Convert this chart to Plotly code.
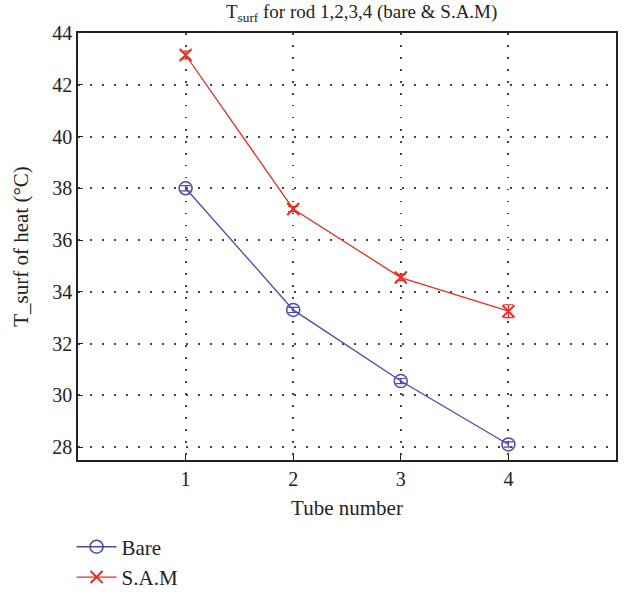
import plotly.graph_objects as go

tubes = [1, 2, 3, 4]
bare = [38.0, 33.3, 30.55, 28.1]
bare_err = [0.1, 0.1, 0.1, 0.1]
sam = [43.15, 37.2, 34.55, 33.25]
sam_err = [0.15, 0.1, 0.12, 0.25]
xticks = [1, 2, 3, 4]
yticks = [28, 30, 32, 34, 36, 38, 40, 42, 44]

BLUE = "#4a4aaa"
RED = "#e3302a"
FONT = "Liberation Serif"

fig = go.Figure()
fig.add_trace(go.Scatter(
    x=tubes, y=bare, name="Bare", mode="lines+markers",
    line=dict(color=BLUE, width=1.3),
    marker=dict(symbol="circle-open", size=13, color=BLUE, line=dict(width=1.5)),
    error_y=dict(type="data", array=bare_err, color=BLUE, thickness=1.2, width=5),
))
fig.add_trace(go.Scatter(
    x=tubes, y=sam, name="S.A.M", mode="lines+markers",
    line=dict(color=RED, width=1.3),
    marker=dict(symbol="x-thin-open", size=12, color=RED, line=dict(width=2, color=RED)),
    error_y=dict(type="data", array=sam_err, color=RED, thickness=1.2, width=5),
))

axis_common = dict(
    showline=True, linecolor="#222", linewidth=1.5, mirror=True,
    ticks="inside", ticklen=5, tickcolor="#222",
    showgrid=True, gridcolor="#444", griddash="1.5px,10.5px", gridwidth=1.5,
    zeroline=False, automargin=False,
    tickfont=dict(family=FONT, size=20, color="#222"),
)
fig.update_xaxes(range=[0, 5], tickvals=xticks, ticktext=[str(t) for t in xticks],
                 title=dict(text="Tube number", font=dict(family=FONT, size=21, color="#222"), standoff=12),
                 **axis_common)
fig.update_yaxes(range=[27.5, 44], tickvals=yticks, ticktext=[str(t) for t in yticks],
                 title=dict(text="T_surf of heat (°C)", font=dict(family=FONT, size=21, color="#222"), standoff=18),
                 **axis_common)

fig.update_layout(
    width=629, height=595,
    margin=dict(l=78, r=13, t=33, b=135),
    plot_bgcolor="white", paper_bgcolor="white",
    title=dict(text="T<sub>surf</sub> for rod 1,2,3,4 (bare & S.A.M)",
               font=dict(family=FONT, size=19, color="#222"),
               x=0.575, xanchor="center", y=0.992, yanchor="top"),
    legend=dict(xref="paper", x=-0.012, xanchor="left",
                yref="container", y=0.115, yanchor="top",
                font=dict(family=FONT, size=21, color="#222"),
                bgcolor="rgba(0,0,0,0)", tracegroupgap=4, itemwidth=40),
    showlegend=True,
)

fig.write_html("out.html")
